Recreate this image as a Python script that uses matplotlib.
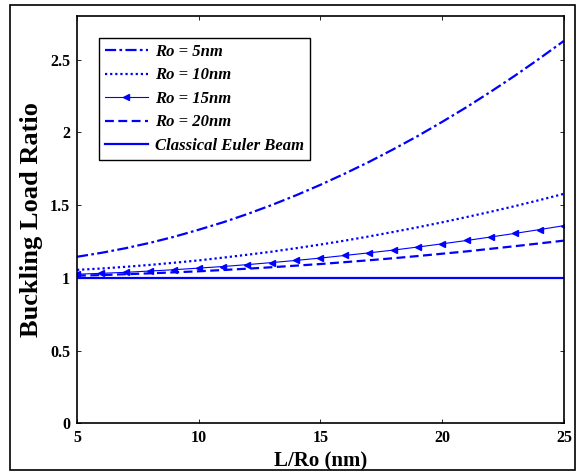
import matplotlib
matplotlib.use('Agg')
import matplotlib.pyplot as plt
from matplotlib.patches import Rectangle

# L/Ro values
x = [5, 6, 7, 8, 9, 10, 11, 12, 13, 14, 15, 16, 17, 18, 19, 20, 21, 22, 23, 24, 25]

# buckling load ratio
ro5 = [1.145, 1.172, 1.204, 1.241, 1.283, 1.331, 1.382, 1.439, 1.501, 1.568, 1.640,
       1.717, 1.798, 1.885, 1.976, 2.073, 2.174, 2.281, 2.392, 2.509, 2.630]
ro10 = [1.055, 1.064, 1.076, 1.089, 1.104, 1.120, 1.139, 1.159, 1.180, 1.204, 1.229,
        1.256, 1.285, 1.316, 1.348, 1.382, 1.418, 1.455, 1.494, 1.535, 1.578]
ro15 = [1.025, 1.031, 1.038, 1.047, 1.056, 1.067, 1.078, 1.091, 1.105, 1.120, 1.136,
        1.154, 1.172, 1.191, 1.212, 1.234, 1.257, 1.281, 1.306, 1.332, 1.359]
ro20 = [1.015, 1.019, 1.025, 1.031, 1.038, 1.045, 1.054, 1.063, 1.073, 1.084, 1.095,
        1.108, 1.121, 1.135, 1.150, 1.166, 1.182, 1.200, 1.218, 1.237, 1.256]
euler = [1.0] * len(x)

labels = ['Ro = 5nm', 'Ro = 10nm', 'Ro = 15nm', 'Ro = 20nm', 'Classical Euler Beam']

plt.rcParams['font.family'] = 'Liberation Serif'
plt.rcParams['font.weight'] = 'bold'

fig = plt.figure(figsize=(5.79, 4.75), dpi=100)
ax = fig.add_axes([0.133, 0.109, 0.841, 0.857])

ax.plot(x, ro5, color='blue', lw=1.6, ls=(0, (5, 1.5, 1.2, 1.5)), label=labels[0])
ax.plot(x, ro10, color='blue', lw=1.6, ls=(0, (1, 1.3)), label=labels[1])
ax.plot(x, ro15, color='blue', lw=0.8, marker='<', ms=4, label=labels[2])
ax.plot(x, ro20, color='blue', lw=1.6, ls=(0, (4, 2)), label=labels[3])
ax.plot(x, euler, color='blue', lw=1.6, label=labels[4])

ax.set_xlim(5, 25)
ax.set_ylim(0, 2.8)
ax.set_xticks([5, 10, 15, 20, 25])
ax.set_yticks([0, 0.5, 1, 1.5, 2, 2.5])
ax.set_yticklabels(['0', '0.5', '1', '1.5', '2', '2.5'])
ax.tick_params(direction='in', top=True, right=True, length=3, width=0.6,
               labelsize=11.5, pad=5)
for lab in ax.get_xticklabels() + ax.get_yticklabels():
    lab.set_fontweight('bold')
for s in ax.spines.values():
    s.set_linewidth(1.2)

ax.set_xlabel('L/Ro (nm)', fontsize=15, fontweight='bold', labelpad=4)
ax.set_ylabel('Buckling Load Ratio', fontsize=19, fontweight='bold', labelpad=5)

leg = ax.legend(loc='upper left', bbox_to_anchor=(0.045, 0.946), borderaxespad=0,
                fancybox=False, edgecolor='black', framealpha=1, handlelength=2.6,
                handletextpad=0.4, borderpad=0.35, labelspacing=0.45,
                prop={'style': 'italic', 'weight': 'bold', 'size': 12})
leg.get_frame().set_linewidth(1.0)

fig.patches.append(Rectangle((10 / 579, 1 - 470 / 475), 565 / 579, 465 / 475,
                             transform=fig.transFigure, fill=False,
                             edgecolor='black', lw=1.2))

fig.savefig('out.png', dpi=100)
